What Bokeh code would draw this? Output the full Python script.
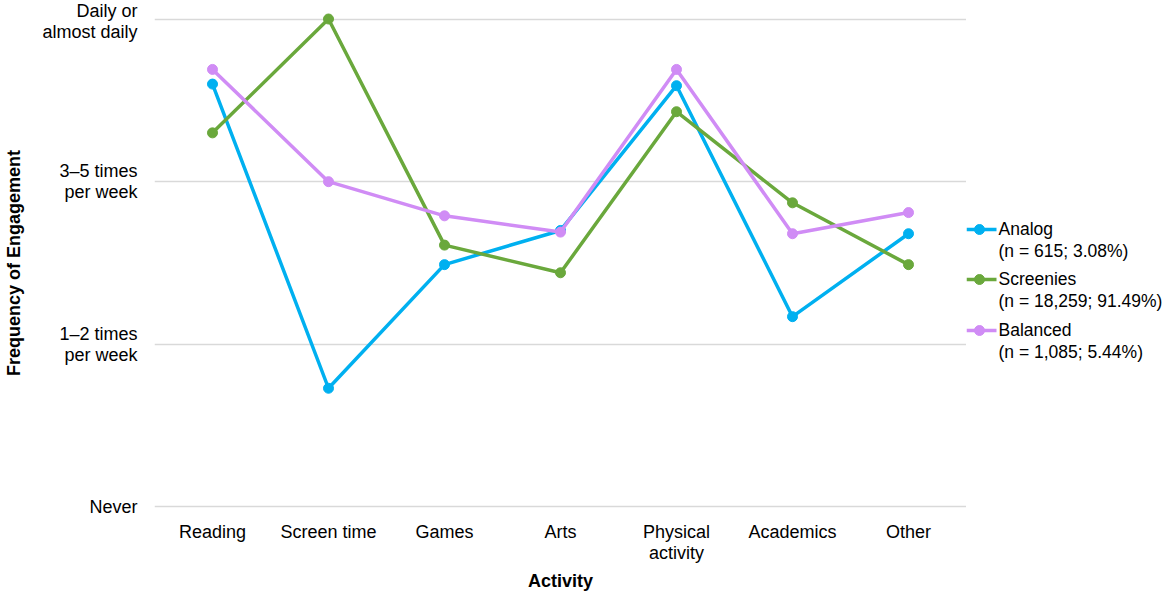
from bokeh.plotting import figure
from bokeh.layouts import row
from bokeh.models import Range1d, FixedTicker
from bokeh.core.properties import value
from bokeh.embed import file_html
from bokeh.resources import INLINE

categories = ["Reading", "Screen time", "Games", "Arts", "Physical\nactivity", "Academics", "Other"]
y_tick_labels = ["Never", "1\u20132 times\nper week", "3\u20135 times\nper week", "Daily or\nalmost daily"]

analog = [2.60, 0.73, 1.49, 1.70, 2.59, 1.17, 1.68]
screenies = [2.30, 3.00, 1.61, 1.44, 2.43, 1.87, 1.49]
balanced = [2.69, 2.00, 1.79, 1.69, 2.69, 1.68, 1.81]

series_names = ["Analog\n(n = 615; 3.08%)", "Screenies\n(n = 18,259; 91.49%)", "Balanced\n(n = 1,085; 5.44%)"]
colors = ["#00b0f0", "#6aa83c", "#d08cf5"]

FONT = "Liberation Sans"
xs = list(range(len(categories)))
FW, FH = 812, 501
TOP, BOT = 12, 81

p = figure(frame_width=FW, frame_height=FH, output_backend="svg", toolbar_location=None,
           x_range=Range1d(-0.5, len(categories) - 0.5), y_range=Range1d(-0.04, 3.04),
           min_border_left=154, min_border_top=TOP, min_border_right=0, min_border_bottom=BOT)
p.outline_line_color = None
p.background_fill_color = "white"
p.border_fill_color = "white"

for vals, c in zip([analog, screenies, balanced], colors):
    p.line(xs, vals, line_color=c, line_width=3.5)
    p.scatter(xs, vals, size=10, fill_color=c, line_color=c)

p.xgrid.grid_line_color = None
p.ygrid.grid_line_color = "#d9d9d9"
p.ygrid.grid_line_width = 1.5

p.yaxis.ticker = FixedTicker(ticks=[0, 1, 2, 3])
p.yaxis.major_label_overrides = {i: t for i, t in enumerate(y_tick_labels)}
p.xaxis.ticker = FixedTicker(ticks=xs)
p.xaxis.major_label_overrides = {i: t for i, t in enumerate(categories)}

for ax in (p.xaxis[0], p.yaxis[0]):
    ax.axis_line_color = None
    ax.major_tick_line_color = None
    ax.minor_tick_line_color = None
    ax.major_label_text_font = FONT
    ax.major_label_text_font_size = "18px"
    ax.major_label_text_color = "#000000"
    ax.major_label_text_line_height = 1.08
    ax.axis_label_text_font = FONT
    ax.axis_label_text_font_size = "18px"
    ax.axis_label_text_font_style = "bold"
    ax.axis_label_text_color = "#000000"

p.yaxis.axis_label = "Frequency of Engagement"
p.yaxis.major_label_standoff = 11
p.yaxis.axis_label_standoff = 15
p.yaxis.major_label_text_align = "right"
p.xaxis.axis_label = "Activity"
p.xaxis.major_label_standoff = 2
p.xaxis.axis_label_standoff = 5

# legend drawn in its own small panel; y runs downward in pixels from the frame top
LW = 200
lg = figure(frame_width=LW, frame_height=FH, output_backend="svg", toolbar_location=None,
            x_range=Range1d(0, LW), y_range=Range1d(FH, 0),
            min_border_left=0, min_border_right=0, min_border_top=TOP, min_border_bottom=BOT,
            x_axis_type=None, y_axis_type=None)
lg.outline_line_color = None
lg.grid.visible = False
lg.background_fill_color = "white"
lg.border_fill_color = "white"

item_y = [217, 267, 318]
for yy, name, c in zip(item_y, series_names, colors):
    lg.line([0, 30], [yy, yy], line_color=c, line_width=3.5)
    lg.scatter([13], [yy], size=10, fill_color=c, line_color=c)
    lg.text([32], [yy - 11], text=[name], text_font=value(FONT), text_font_size="17.5px",
            text_color="#000000", text_baseline="top", text_align="left", text_line_height=1.1)

open("out.html", "w").write(file_html(row(p, lg, spacing=0), INLINE))
